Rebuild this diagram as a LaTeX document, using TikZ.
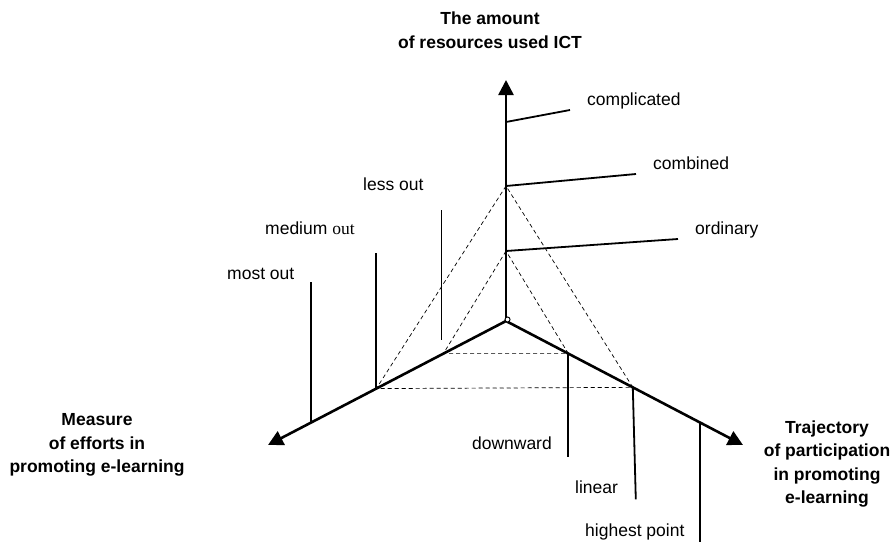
\documentclass[tikz,border=0pt]{standalone}
\usepackage{fontspec}
\setmainfont{Liberation Sans}
\newfontfamily\timesfont{Liberation Serif}
\usetikzlibrary{calc,arrows.meta}

\tikzset{
  axis/.style={line width=2.6pt,-{Triangle[length=15pt,width=15pt]}},
  tickline/.style={line width=1.8pt},
  guide/.style={line width=0.7pt,dash pattern=on 4pt off 3pt},
  lbl/.style={font=\fontsize{17.5}{21}\selectfont,inner sep=0pt,text height=12.5pt,text depth=0pt},
  ttl/.style={font=\bfseries\fontsize{17.5}{23.5}\selectfont,inner sep=0pt,align=center},
}

\begin{document}
\begin{tikzpicture}[x=1pt,y=-1pt]
	\useasboundingbox (0,0) rectangle (896,546);
	%
	\coordinate (O)     at (506,321);
	\coordinate (top)   at (506,80);
	\coordinate (left)  at (268,445);
	\coordinate (right) at (743,445);
	%
	\coordinate (cpx) at (506,122);
	\coordinate (cmb) at (506,186);
	\coordinate (ord) at (506,251);
	\coordinate (cpx-end) at (570,110);
	\coordinate (cmb-end) at (636,174);
	\coordinate (ord-end) at (678,239);
	%
	\coordinate (most) at ($(O)!0.82!(left)$);
	\coordinate (med)  at ($(O)!0.545!(left)$);
	\coordinate (less) at ($(O)!0.263!(left)$);
	\coordinate (down) at ($(O)!0.263!(right)$);
	\coordinate (lin)  at ($(O)!0.535!(right)$);
	\coordinate (high) at ($(O)!0.82!(right)$);
	
	%labels
	\node[lbl,anchor=west] (cpx-l)  at (587,99)  {complicated};
	\node[lbl,anchor=west] (cmb-l)  at (653,163) {combined};
	\node[lbl,anchor=west] (ord-l)  at (695,228) {ordinary};
	\node[lbl,anchor=west] (less-l) at (363,184) {less out};
	\node[lbl,anchor=west] (med-l)  at (265,228) {medium {\timesfont out}};
	\node[lbl,anchor=west] (most-l) at (227,273) {most out};
	\node[lbl,anchor=east] (down-l) at (552,443) {downward};
	\node[lbl,anchor=west] (lin-l)  at (575,487) {linear};
	\node[lbl,anchor=west] (high-l) at (585,530) {highest point};
	%
	\node[ttl] (t-top)   at (490,30)  {The amount\\of resources used ICT};
	\node[ttl] (t-left)  at (97,445)  {Measure\\of efforts in\\promoting e-learning};
	\node[ttl] (t-right) at (827,464) {Trajectory\\of participation\\in promoting\\e-learning};
	
	%dashed triangles
	\draw[guide] (cmb) -- (med) -- (lin) -- cycle;
	\draw[guide] (ord) -- (less) -- (down) -- cycle;
	
	%ticks
	\draw[tickline] (cpx) -- (cpx-end);						%complicated
	\draw[tickline] (cmb) -- (cmb-end);						%combined
	\draw[tickline] (ord) -- (ord-end);						%ordinary
	\draw[tickline] (most) -- ++(0,-141);					%most out
	\draw[tickline] (med) -- ++(0,-136);					%medium out
	\draw[tickline] (less) ++(-2,-14) -- ++(0,-130);		%less out
	\draw[tickline] (down) -- ++(0,103);					%downward
	\draw[tickline] (lin) -- ++(3,112);						%linear
	\draw[tickline] (high) -- ++(0,119);					%highest point
	
	%axes
	\draw[axis] (O) -- (top);
	\draw[axis] (O) -- (left);
	\draw[axis] (O) -- (right);
	\draw[line width=1pt,fill=white] (O) ++(1.5,-1.5) circle[radius=2.5pt];
	
	%\draw[help lines] (0,0) grid[step=50] (896,546);
\end{tikzpicture}
\end{document}
